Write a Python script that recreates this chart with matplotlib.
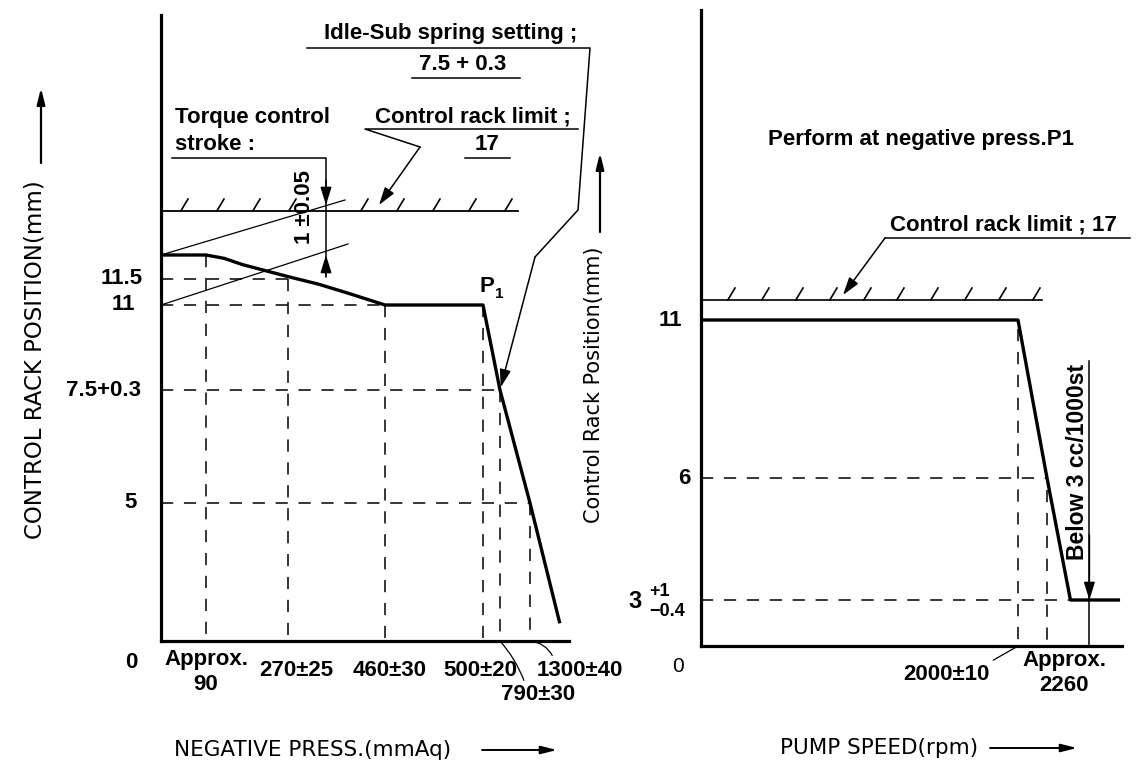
import numpy as np
import matplotlib
matplotlib.use("Agg")
import matplotlib.pyplot as plt
from matplotlib.lines import Line2D
from matplotlib.path import Path

# ---------------- data ----------------
# Left chart: negative pressure (mmAq) -> control rack position (mm)
press_curve = [0, 90, 130, 170, 210, 270, 330, 390, 460, 500, 790, 1300, 1800]
rack_curve_l = [12, 12, 11.93, 11.8, 11.7, 11.55, 11.4, 11.22, 11, 11, 7.8, 5, 0.7]
press_ticks = [90, 270, 460, 500, 790, 1300]
press_labels = ["Approx.\n90", "270±25", "460±30", "500±20", "790±30", "1300±40"]
press_tick_rack = [12, 11.5, 11, 11, 7.8, 5]          # curve height at each press tick
rack_ticks_l = [5, 7.8, 11, 11.5]
rack_labels_l = ["5", "7.5+0.3", "11", "11.5"]
rack_tick_press = [1300, 790, 460, 270]               # press where each rack tick meets curve
rack_limit = 17
press_limit_end = 1100
idle_press, idle_rack = 790, 7.8

# Right chart: pump speed (rpm) -> control rack position (mm)
speed_curve = [0, 2000, 2260, 2470, 2900]
rack_curve_r = [11, 11, 6, 3, 3]
speed_ticks = [2000, 2260]
speed_labels = ["2000±10", "Approx.\n2260"]
speed_tick_rack = [11, 6]
rack_ticks_r = [3, 6, 11]
rack_tick_speed = [2470, 2260, None]
speed_limit_end = 2215
below_speed, below_top, below_rack = 2640, 9.7, 3

# ---------------- layout (schematic scales, px) ----------------
W, H = 1145, 765
SCALE_XL = ([0, 90, 270, 460, 500, 790, 1300], [0, 45, 127, 224, 322, 339, 369])
SCALE_YL = ([0, 5, 7.8, 11, 11.5, 12, 17], [0, 138, 251, 336, 362, 386, 430])
SCALE_XR = ([0, 2000, 2260], [0, 317, 346])
SCALE_YR = ([0, 3, 6, 11, 17], [0, 46, 168, 326, 346])


def piecewise(xp, fp):
    xp = np.asarray(xp, float)
    fp = np.asarray(fp, float)

    def f(x):
        x = np.asarray(x, float)
        y = np.interp(x, xp, fp)
        y = np.where(x < xp[0], fp[0] + (x - xp[0]) * (fp[1] - fp[0]) / (xp[1] - xp[0]), y)
        y = np.where(x > xp[-1], fp[-1] + (x - xp[-1]) * (fp[-1] - fp[-2]) / (xp[-1] - xp[-2]), y)
        return y
    return f


def scale_pair(s):
    return piecewise(s[0], s[1]), piecewise(s[1], s[0])


plt.rcParams['font.family'] = ['Liberation Sans', 'DejaVu Sans']
fig = plt.figure(figsize=(W / 100, H / 100), dpi=100)
BF = dict(fontsize=16, fontweight='bold', color='k')
TF = dict(fontsize=15.5, family='DejaVu Sans', fontweight='normal', color='k')


def F(x, y):
    return (x / W, 1 - y / H)


def fline(xs, ys, lw=1.1):
    fig.add_artist(Line2D([x / W for x in xs], [1 - y / H for y in ys],
                          transform=fig.transFigure, color='k', lw=lw))


def farrow(x0, y0, x1, y1, lw=1.1, hl=0.9, hw=0.28, ms=12):
    fig.add_artist(matplotlib.patches.FancyArrowPatch(
        F(x0, y0), F(x1, y1), transform=fig.transFigure,
        arrowstyle=f'-|>,head_length={hl},head_width={hw}', mutation_scale=ms,
        color='k', lw=lw, shrinkA=0, shrinkB=0))


def ftext(x, y, s, ha='left', va='center', **kw):
    opts = dict(BF)
    opts.update(kw)
    fig.text(x / W, 1 - y / H, s, ha=ha, va=va, **opts)


def setup(ax, sx, sy, wpx, hpx):
    fx, ix = scale_pair(sx)
    fy, iy = scale_pair(sy)
    ax.set_xscale('function', functions=(fx, ix))
    ax.set_yscale('function', functions=(fy, iy))
    ax.set_xlim(0, float(ix(wpx)))
    ax.set_ylim(0, float(iy(hpx)))
    for s in ('top', 'right'):
        ax.spines[s].set_visible(False)
    for s in ('left', 'bottom'):
        ax.spines[s].set_linewidth(2.3)
    ax.set_xticks([])
    ax.set_yticks([])
    ax.minorticks_off()
    ax.patch.set_alpha(0)
    return ix, iy


hatch = Path([(0, 0), (0.6, 1)], [Path.MOVETO, Path.LINETO])
DASH = dict(color='k', lw=1.1, ls=(0, (8, 7)))

# ================= LEFT CHART =================
axL = fig.add_axes([161 / W, (H - 641) / H, 408 / W, 626 / H])
ixL, iyL = setup(axL, SCALE_XL, SCALE_YL, 408, 626)

# guides
for r, p in zip(rack_ticks_l, rack_tick_press):
    axL.plot([0, p], [r, r], **DASH)
for p, r in zip(press_ticks, press_tick_rack):
    axL.plot([p, p], [r, 0], **DASH)
# control rack limit + hatches
axL.plot([0, press_limit_end], [rack_limit, rack_limit], color='k', lw=1.3)
hx = ixL(np.linspace(19, 343, 10))
hx = np.delete(hx, 4)
axL.plot(hx, [rack_limit] * len(hx), ls='none', marker=hatch, ms=19,
         mfc='none', mec='k', mew=1.2)
# characteristic curve
axL.plot(press_curve, rack_curve_l, color='k', lw=2.4, solid_joinstyle='round')

# tick labels
for r, lab, dx in zip(rack_ticks_l, rack_labels_l, [-24, -20, -26, -18]):
    axL.annotate(lab, (0, r), xytext=(dx, 0), textcoords='offset pixels',
                 ha='right', va='center', annotation_clip=False, **BF)
axL.annotate("0", (0, 0), xytext=(-30, -21), textcoords='offset pixels',
             ha='center', va='center', annotation_clip=False, **BF)
xl_off = [(0, -8, 'top'), (8, -29, 'center'), (5, -29, 'center'),
          (-3, -29, 'center'), (38, -54, 'center'), (50, -29, 'center')]
for i, (p, lab, (dx, dy, va)) in enumerate(zip(press_ticks, press_labels, xl_off)):
    ap = None
    if i == 4:
        ap = dict(arrowstyle='-', lw=0.9, color='k', relpos=(0.33, 1.0),
                  shrinkA=1, shrinkB=0, connectionstyle='arc3,rad=0.1')
    if i == 5:
        ap = dict(arrowstyle='-', lw=0.9, color='k', relpos=(0.2, 1.0),
                  shrinkA=1, shrinkB=0, connectionstyle='arc3,rad=0.3')
    axL.annotate(lab, (p, 0), xytext=(dx, dy), textcoords='offset pixels',
                 ha='center', va=va, linespacing=1.25, arrowprops=ap,
                 annotation_clip=False, **BF)

# torque control construction lines
fline([161, 345], [255, 200], lw=0.9)
fline([161, 348], [305, 244], lw=0.9)
ftext(175, 117, "Torque control")
ftext(175, 145, "stroke :")
fline([172, 326, 326], [158, 158, 277], lw=1.1)
farrow(326, 180, 326, 205)
farrow(326, 275, 326, 255)
ftext(305, 207, "1 ±0.05", ha='center', rotation=90)

# control rack limit note
ftext(375, 117, "Control rack limit ;")
fline([578, 365, 420], [129, 129, 147])
farrow(420, 147, 379, 205)
ftext(487, 145, "17", ha='center')
fline([465, 510], [158, 158])

# idle-sub spring note
ftext(451, 33, "Idle-Sub spring setting ;", ha='center')
fline([307, 590, 578, 535], [48, 48, 210, 257])
ftext(463, 65, "7.5 + 0.3", ha='center')
fline([412, 520], [78, 78])
axL.annotate('', (idle_press, idle_rack), xytext=(535, H - 257), textcoords='figure pixels',
             arrowprops=dict(arrowstyle='-|>,head_length=0.9,head_width=0.28', mutation_scale=12,
                             lw=1.1, color='k', shrinkA=0, shrinkB=2),
             annotation_clip=False)
# P1
ftext(487, 287, "P", ha='center')
ftext(499, 294, "1", ha='center', fontsize=11)

# axis titles
ftext(35, 360, "CONTROL RACK POSITION(mm)", ha='center', rotation=90,
      **dict(TF, fontsize=16.5))
farrow(41, 163, 41, 88, lw=1.6, hl=0.8, hw=0.2)
ftext(174, 750, "NEGATIVE PRESS.(mmAq)", **TF)
farrow(482, 750, 557, 750, lw=1.4, hl=0.8, hw=0.2)

# ================= RIGHT CHART =================
axR = fig.add_axes([701 / W, (H - 646) / H, 421 / W, 636 / H])
ixR, iyR = setup(axR, SCALE_XR, SCALE_YR, 421, 636)

for r, s in zip(rack_ticks_r, rack_tick_speed):
    if s is not None:
        axR.plot([0, s], [r, r], **DASH)
for s, r in zip(speed_ticks, speed_tick_rack):
    axR.plot([s, s], [r - 0.3, 0], **DASH)
axR.plot([0, speed_limit_end], [rack_limit, rack_limit], color='k', lw=1.2)
hxr = ixR(np.linspace(26, 331, 10))
axR.plot(hxr, [rack_limit] * len(hxr), ls='none', marker=hatch, ms=19,
         mfc='none', mec='k', mew=1.2)
axR.plot(speed_curve, rack_curve_r, color='k', lw=2.4, solid_joinstyle='round')
# "Below 3 cc/1000st" marker line
axR.plot([below_speed, below_speed], [below_top, 0], color='k', lw=1.1)
axR.annotate('', (below_speed, below_rack), xytext=(below_speed, 4.6),
             arrowprops=dict(arrowstyle='-|>,head_length=0.9,head_width=0.28', mutation_scale=12,
                             lw=1.1, color='k', shrinkA=0, shrinkB=0))
ftext(1077, 462, "Below 3 cc/1000st", ha='center', rotation=90, fontsize=16.5)

# tick labels
axR.annotate("11", (0, 11), xytext=(-19, 0), textcoords='offset pixels',
             ha='right', va='center', annotation_clip=False, **BF)
axR.annotate("6", (0, 6), xytext=(-11, 0), textcoords='offset pixels',
             ha='right', va='center', annotation_clip=False, **BF)
ftext(635, 602, "3", ha='center', fontsize=17)
ftext(660, 591, "+1", ha='center', fontsize=13)
ftext(667, 612, "−0.4", ha='center', fontsize=13)
axR.annotate("0", (0, 0), xytext=(-23, -21), textcoords='offset pixels',
             ha='center', va='center', annotation_clip=False, fontsize=15, color='k')
axR.annotate(speed_labels[0], (speed_ticks[0], 0), xytext=(-72, -28), textcoords='offset pixels',
             ha='center', va='center', annotation_clip=False,
             arrowprops=dict(arrowstyle='-', lw=0.9, color='k', relpos=(0.98, 1.0),
                             shrinkA=1, shrinkB=0), **BF)
axR.annotate(speed_labels[1], (speed_ticks[1], 0), xytext=(17, -4), textcoords='offset pixels',
             ha='center', va='top', linespacing=1.25, annotation_clip=False, **BF)

# notes
ftext(768, 140, "Perform at negative press.P1")
ftext(890, 225, "Control rack limit ; 17")
fline([1130, 885], [238, 238])
farrow(885, 238, 843, 295)

# axis titles
ftext(594, 385, "Control Rack Position(mm)", ha='center', rotation=90,
      **dict(TF, fontsize=15))
farrow(600, 232, 600, 153, lw=1.6, hl=0.8, hw=0.2)
ftext(780, 748, "PUMP SPEED(rpm)", **TF)
farrow(990, 748, 1077, 748, lw=1.4, hl=0.8, hw=0.2)

fig.savefig("out.png", dpi=100)
